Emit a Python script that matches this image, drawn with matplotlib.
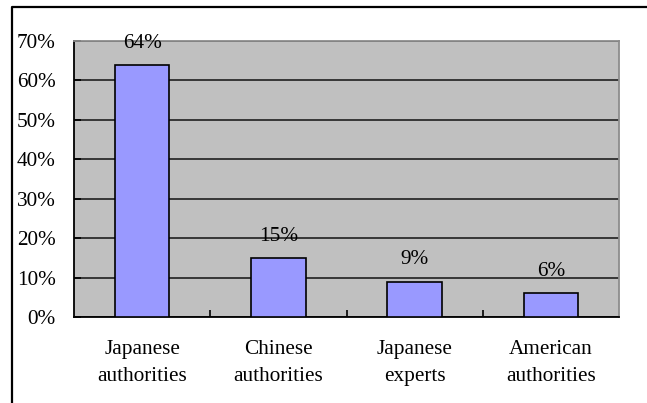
import matplotlib.pyplot as plt
from matplotlib.lines import Line2D
from matplotlib.ticker import PercentFormatter

# survey shares by source
categories = ["Japanese\nauthorities", "Chinese\nauthorities",
              "Japanese\nexperts", "American\nauthorities"]
shares = [64, 15, 9, 6]
y_ticks = [0, 10, 20, 30, 40, 50, 60, 70]

plt.rcParams["font.family"] = ["Liberation Serif", "DejaVu Serif"]
FS = 15.3

fig = plt.figure(figsize=(6.47, 4.03), dpi=100)
ax = fig.add_axes([74 / 647, 1 - 317 / 403, 545 / 647, 276 / 403])
ax.set_facecolor("#C0C0C0")

x = range(len(categories))
ax.bar(x, shares, width=0.4, color="#9999FF", edgecolor="black",
       linewidth=1.2, zorder=3)

for xi, v in zip(x, shares):
    ax.annotate(f"{v}%", (xi, v), xytext=(0, 15.5), textcoords="offset points",
                ha="center", va="center", fontsize=FS, zorder=4)

ax.set_xlim(-0.5, len(categories) - 0.5)
ax.set_ylim(0, 70)
ax.set_yticks(y_ticks)
ax.yaxis.set_major_formatter(PercentFormatter(decimals=0))
ax.grid(axis="y", color="#202020", linewidth=1.2, zorder=1)
ax.set_axisbelow(True)

# category labels sit between boundary ticks
ax.set_xticks([i + 0.5 for i in range(len(categories) - 1)])
ax.set_xticklabels([])
ax.set_xticks(list(x), minor=True)
ax.set_xticklabels(categories, minor=True, fontsize=FS, linespacing=1.6)
ax.tick_params(axis="x", which="major", direction="in", length=5,
               width=1.2, color="black")
ax.tick_params(axis="x", which="minor", length=0, pad=16.5)
ax.tick_params(axis="y", direction="in", length=5, width=1.2,
               labelsize=FS, pad=13)

for side in ("left", "bottom"):
    ax.spines[side].set_color("black")
    ax.spines[side].set_linewidth(1.3)
for side in ("top", "right"):
    ax.spines[side].set_color("#8C8C8C")
    ax.spines[side].set_linewidth(1.3)

# outer chart frame (top and left edges)
fx = 12 / 647
fy = 1 - 7 / 403
fig.add_artist(Line2D([fx, fx, 1], [0, fy, fy], color="black",
                      linewidth=1.6, transform=fig.transFigure))

fig.savefig("out.png", dpi=100, facecolor="white")
